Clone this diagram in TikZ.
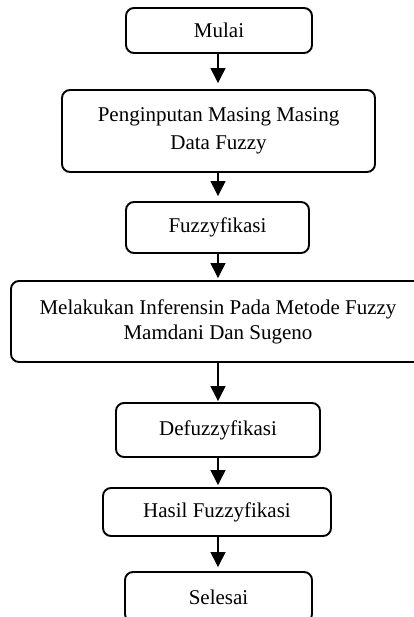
\documentclass[tikz,border=0pt]{standalone}
\usepackage{fontspec}
\setmainfont{Liberation Serif}
\usetikzlibrary{arrows.meta}
\begin{document}
\begin{tikzpicture}[x=1pt,y=-1pt,
  box/.style={draw, line width=1.9pt, rounded corners=8pt, align=center,
    font=\fontsize{21}{28}\selectfont, inner sep=0pt},
  flow/.style={line width=1.3pt, -{Triangle[width=15pt,length=15pt]}}]
\useasboundingbox (0,0) rectangle (414,617);
\node[box, minimum width=186pt, minimum height=45pt] (mulai) at (219,30.5) {\raisebox{-4pt}{Mulai}};
\node[box, minimum width=313pt, minimum height=82pt] (input) at (218.5,131) {Penginputan Masing Masing\\Data Fuzzy};
\node[box, minimum width=183pt, minimum height=51pt] (fuzz) at (217.5,227.5) {Fuzzyfikasi};
\node[box, minimum width=414pt, minimum height=81pt, font=\fontsize{21}{25}\selectfont] (infer) at (218,321.5) {Melakukan Inferensin Pada Metode Fuzzy\\Mamdani Dan Sugeno};
\node[box, minimum width=204pt, minimum height=54pt] (defuzz) at (218,430) {Defuzzyfikasi};
\node[box, minimum width=228pt, minimum height=48pt] (hasil) at (217,512) {Hasil Fuzzyfikasi};
\node[box, minimum width=187pt, minimum height=50pt] (selesai) at (218.5,597) {Selesai};
\draw[flow, shorten >=6pt] (218,0 |- mulai.south) -- (218,0 |- input.north);
\draw[flow, shorten >=5pt] (218,0 |- input.south) -- (218,0 |- fuzz.north);
\draw[flow, shorten >=2pt] (218,0 |- fuzz.south) -- (218,0 |- infer.north);
\draw[flow, shorten >=1pt] (218,0 |- infer.south) -- (218,0 |- defuzz.north);
\draw[flow, shorten >=2pt] (218,0 |- defuzz.south) -- (218,0 |- hasil.north);
\draw[flow, shorten >=4pt] (218,0 |- hasil.south) -- (218,0 |- selesai.north);
\end{tikzpicture}
\end{document}
